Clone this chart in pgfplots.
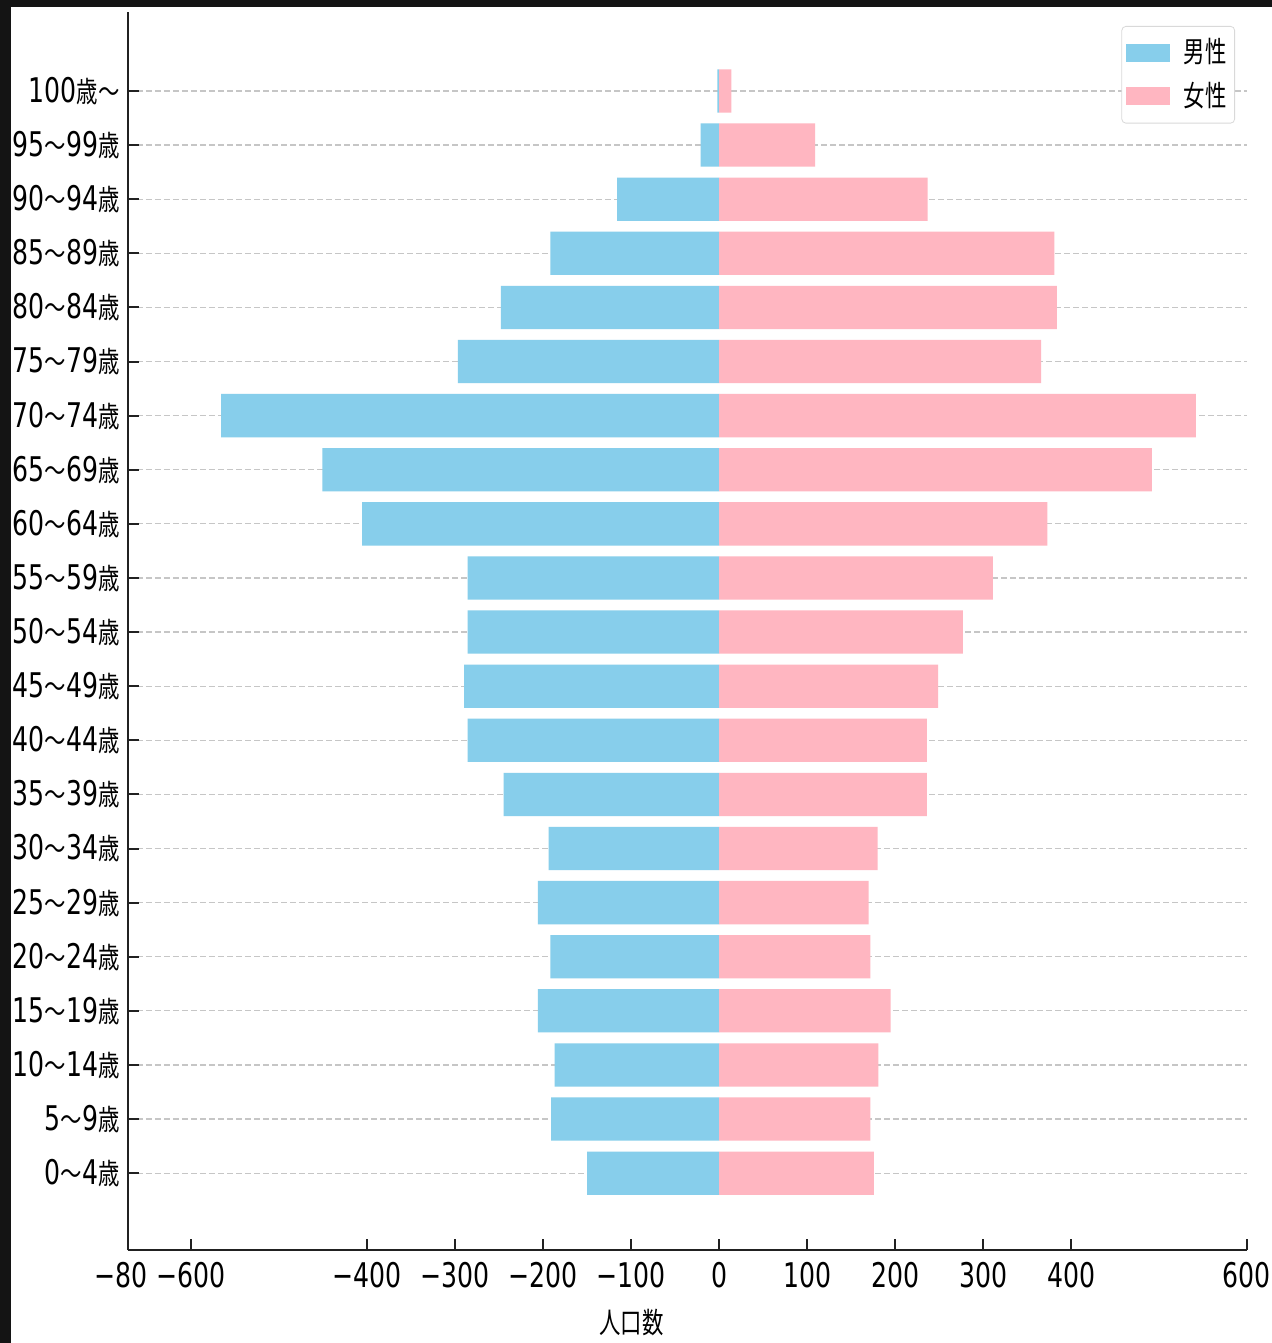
\documentclass[border=0pt]{standalone}
\usepackage{pgfplots}
\pgfplotsset{compat=1.18}
\usepackage{fontspec}
\setmainfont[FakeStretch=0.74]{DejaVu Sans}
\newfontfamily\cjk[FakeStretch=0.74,Scale=0.85]{Noto Sans CJK JP}
\definecolor{male}{HTML}{87CEEB}
\definecolor{female}{HTML}{FFB6C1}
\definecolor{dark}{HTML}{141414}
\newcommand{\til}{{\cjk ～}}
\newcommand{\sai}{{\cjk 歳}}
\begin{document}
\fontsize{17}{20}\selectfont
\begin{tikzpicture}
\path[use as bounding box] (-64pt,-46.5pt) rectangle (572pt,625pt);
\fill[white] (-64pt,-46.5pt) rectangle (572pt,625pt);
\fill[dark] (-64pt,621.5pt) rectangle (572pt,625pt);
\fill[dark] (-64pt,-46.5pt) rectangle (-58.5pt,625pt);
\begin{axis}[
  at={(0,0)}, anchor=south west,
  scale only axis, width=559.5pt, height=619pt,
  xmin=-672, xmax=600, ymin=-1.42, ymax=21.46,
  axis lines*=left,
  axis line style={line width=1pt, color=black!87},
  xtick={-672,-600,-400,-300,-200,-100,0,100,200,300,400,600},
  xticklabels={−80\hspace*{7pt},−600,−400,−300,−200,−100,0,100,200,300,400,600},
  ytick={0,1,...,20},
  yticklabels={0\til4\sai,5\til9\sai,10\til14\sai,15\til19\sai,20\til24\sai,25\til29\sai,30\til34\sai,35\til39\sai,40\til44\sai,45\til49\sai,50\til54\sai,55\til59\sai,60\til64\sai,65\til69\sai,70\til74\sai,75\til79\sai,80\til84\sai,85\til89\sai,90\til94\sai,95\til99\sai,100\sai\til},
  tick align=inside, major tick length=5.5pt,
  tick style={line width=1pt, color=black!87},
  xticklabel style={font=\fontsize{17}{20}\selectfont, inner sep=6pt},
  yticklabel style={font=\fontsize{17}{20}\selectfont, inner sep=4pt},
  ymajorgrids,
  grid style={dash pattern=on 3pt off 1.5pt, color=gray!45, line width=0.6pt},
  xlabel={\cjk 人口数},
  xlabel style={at={(rel axis cs:0.45,0)}, anchor=center, yshift=-36.5pt, font=\fontsize{17}{20}\selectfont},
  legend style={at={(rel axis cs:0.9893,0.9887)}, anchor=north east, draw=gray!30, fill=white, rounded corners=2pt, font=\fontsize{17}{20}\selectfont, inner xsep=2pt, inner ysep=4pt, row sep=3pt, cells={anchor=west}, /tikz/every odd column/.append style={column sep=5pt}},
  legend cell align=left,
]
\addplot[xbar, bar width=0.8, bar shift=0pt, fill=male, draw=none,
  legend image code/.code={\fill[male, sharp corners] (0pt,-4.5pt) rectangle (22pt,4.5pt);}]
  coordinates {(-150,0) (-191,1) (-187,2) (-206,3) (-192,4) (-206,5) (-194,6) (-245,7) (-286,8) (-290,9) (-286,10) (-286,11) (-406,12) (-451,13) (-566,14) (-297,15) (-248,16) (-192,17) (-116,18) (-21,19) (-2,20)};
\addlegendentry{\cjk 男性}
\addplot[xbar, bar width=0.8, bar shift=0pt, fill=female, draw=none,
  legend image code/.code={\fill[female, sharp corners] (0pt,-4.5pt) rectangle (22pt,4.5pt);}]
  coordinates {(176,0) (172,1) (181,2) (195,3) (172,4) (170,5) (180,6) (236,7) (236,8) (249,9) (277,10) (311,11) (373,12) (492,13) (542,14) (366,15) (384,16) (381,17) (237,18) (109,19) (14,20)};
\addlegendentry{\cjk 女性}
\end{axis}
\end{tikzpicture}
\end{document}
